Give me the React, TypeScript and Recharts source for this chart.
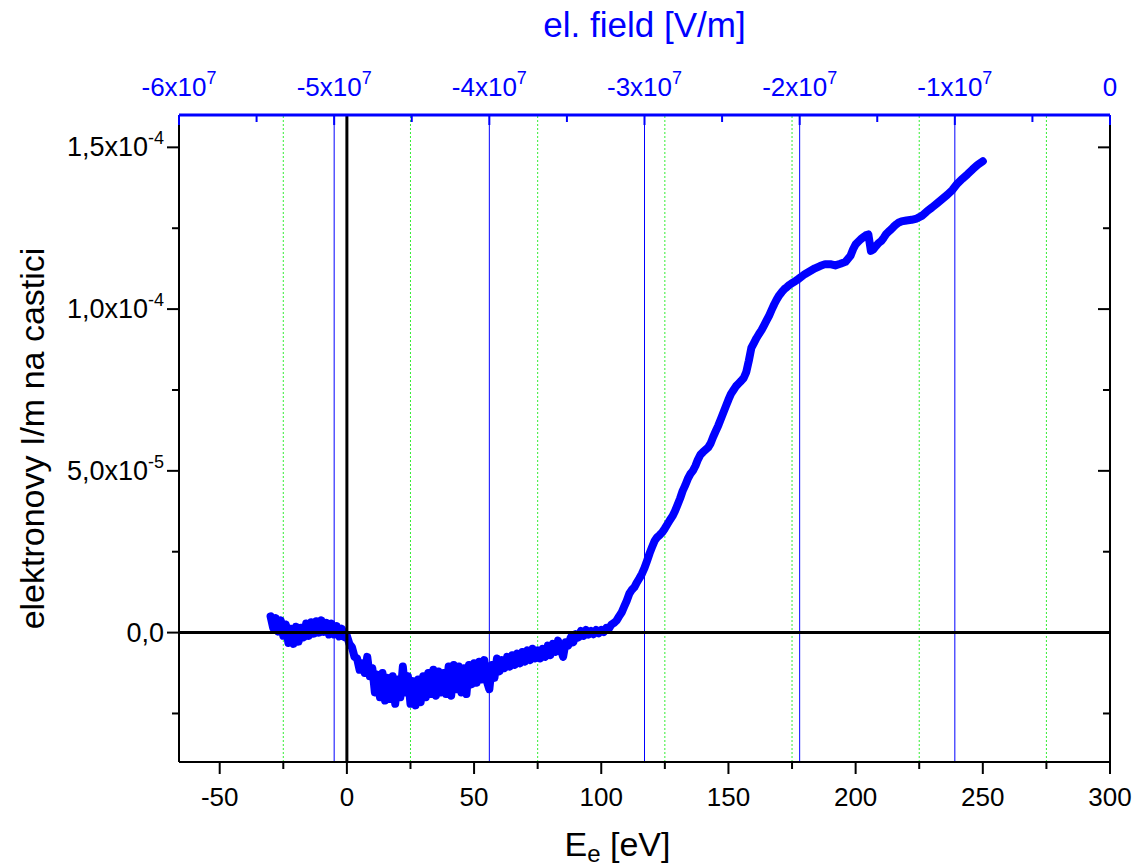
import { LineChart, Line, XAxis, YAxis, ReferenceLine } from "recharts";

// electron energy [eV] and electrons per particle (units of 1e-6), low-energy noisy part
const energyLow = [
  -30, -29, -28, -27, -26, -25, -24, -23, -22, -21,
  -20, -19, -18, -17, -16, -15, -14, -13, -12, -11,
  -10, -9, -8, -7, -6, -5, -4, -3, -2, -1,
  0, 1, 2, 3, 4, 5, 6, 7, 8, 9,
  10, 11, 12, 13, 14, 15, 16, 17, 18, 19,
  20, 21, 22, 23, 24, 25, 26, 27, 28, 29,
  30, 31, 32, 33, 34, 35, 36, 37, 38, 39,
  40, 41, 42, 43, 44, 45, 46, 47, 48, 49,
  50, 51, 52, 53, 54, 55, 56, 57, 58, 59,
  60, 61, 62, 63, 64, 65, 66, 67, 68, 69,
  70, 71, 72, 73, 74, 75, 76, 77, 78, 79,
  80, 81, 82, 83, 84, 85, 86, 87, 88, 89,
  90, 91, 92, 93, 94, 95, 96, 97, 98, 99,
  100, 101, 102, 103, 104, 105,
];
const electronsLow = [
  5.0, 1.5, 4.5, 0.3, 3.8, -1.0, 2.5, -3.2, 1.2, -3.5,
  1.8, -2.8, 1.5, -1.5, 2.8, -1.0, 3.2, -0.3, 3.5, 0.0,
  3.8, 0.2, 3.0, -0.6, 2.8, -0.6, 2.0, -1.2, 1.2, -1.4,
  -1.0, -3.5, -4.5, -7.5, -8.0, -11.5, -9.5, -12.5, -7.5, -13.5,
  -11.0, -18.5, -13.0, -20.0, -12.5, -21.0, -14.0, -20.5, -13.5, -22.0,
  -14.5, -20.0, -10.5, -18.5, -13.5, -22.0, -15.0, -22.5, -14.5, -21.5,
  -13.5, -20.0, -12.5, -19.0, -11.5, -19.5, -12.0, -18.5, -12.5, -19.0,
  -10.5, -19.5, -10.0, -17.5, -10.5, -18.5, -11.0, -19.0, -10.0, -16.0,
  -9.5, -15.5, -9.0, -14.5, -8.5, -15.0, -17.5, -10.0, -14.0, -8.0,
  -12.0, -8.5, -11.0, -7.5, -10.5, -7.0, -10.0, -6.5, -9.5, -6.0,
  -9.0, -5.5, -8.5, -5.0, -8.0, -5.5, -8.0, -5.0, -7.5, -4.0,
  -7.0, -3.5, -6.0, -2.5, -5.0, -7.5, -3.0, -4.0, -1.5, -3.0,
  -0.5, -1.5, 0.5, -1.0, 0.8, -0.6, 0.5, -0.5, 0.8, -0.2,
  0.8, 0.2, 1.5, 1.2, 2.5, 3.0,
];

// rising part
const energyHigh = [
  106, 107, 108, 109, 110, 111, 112, 113, 114, 115,
  116, 117, 118, 119, 120, 121, 122, 123, 124, 125,
  126, 127, 128, 129, 130, 131, 132, 133, 134, 135,
  136, 137, 138, 139, 140, 141, 142, 143, 144, 145,
  146, 147, 148, 149, 150, 151, 152, 153, 154, 155,
  156, 157, 158, 159, 160, 161, 162, 163, 164, 165,
  166, 167, 168, 169, 170, 171, 172, 173, 174, 175,
  176, 177, 178, 179, 180,
  182, 184, 186, 188, 190, 192, 194, 196, 198,
  199, 200, 201, 202, 203, 204, 205, 206, 207, 208,
  209, 210, 211, 212, 213, 214, 215, 216, 217, 218,
  220, 222, 224, 226, 228, 230, 232, 234, 236, 238,
  240, 242, 244, 246, 248, 250,
];
const electronsHigh = [
  3.7, 5.0, 6.2, 8.0, 9.8, 12.0, 13.2, 14.0, 15.5, 16.8,
  18.2, 20.0, 22.2, 24.5, 26.5, 28.4, 29.5, 30.2, 31.0, 32.2,
  33.5, 34.8, 36.0, 37.6, 39.5, 41.5, 43.8, 45.5, 47.5, 49.0,
  50.0, 51.5, 53.5, 55.0, 55.8, 56.5, 57.2, 58.5, 60.5, 62.3,
  64.0, 66.0, 68.0, 70.0, 72.0, 73.8, 75.0, 76.2, 77.0, 77.8,
  78.7, 80.5, 84.0, 88.0, 89.5, 91.0, 92.3, 93.5, 95.0, 96.5,
  98.0, 99.8, 101.5, 103.0, 104.3, 105.3, 106.2, 106.8, 107.5, 108.0,
  108.5, 109.0, 109.6, 110.2, 110.8,
  111.7, 112.6, 113.3, 113.9, 113.9, 113.5, 114.0, 114.6, 116.5,
  118.5, 120.0, 120.8, 121.6, 122.2, 122.8, 123.1, 118.0, 118.5, 119.5,
  120.4, 121.0, 122.0, 123.2, 124.0, 124.7, 125.5, 126.2, 126.8, 127.1,
  127.4, 127.6, 128.0, 128.8, 130.2, 131.4, 132.7, 134.0, 135.3, 136.8,
  138.8, 140.3, 141.7, 143.2, 144.6, 145.7,
];

const energyTicks = [-50, -25, 0, 25, 50, 75, 100, 125, 150, 175, 200, 225, 250, 275, 300];
const energyMinorGrid = [-25, 25, 75, 125, 175, 225, 275];
const fieldTicks = [-6e7, -5.5e7, -5e7, -4.5e7, -4e7, -3.5e7, -3e7, -2.5e7, -2e7, -1.5e7, -1e7, -5e6, 0];
const fieldGrid = [-5e7, -4e7, -3e7, -2e7, -1e7];
const fieldLabels: Record<string, [string, string]> = {
  "-60000000": ["-6x10", "7"],
  "-50000000": ["-5x10", "7"],
  "-40000000": ["-4x10", "7"],
  "-30000000": ["-3x10", "7"],
  "-20000000": ["-2x10", "7"],
  "-10000000": ["-1x10", "7"],
  "0": ["0", ""],
};
const yTicks = [-25, 0, 25, 50, 75, 100, 125, 150];
const yLabels: Record<string, [string, string]> = {
  "0": ["0,0", ""],
  "50": ["5,0x10", "-5"],
  "100": ["1,0x10", "-4"],
  "150": ["1,5x10", "-4"],
};

// the top scale: -6x10^7 V/m sits at -66 eV, 0 V/m at 300 eV
const EV_MIN = -66;
const EV_MAX = 300;
const fieldToEv = (f: number) => EV_MAX + (f / 6e7) * (EV_MAX - EV_MIN);

const rows = [
  ...energyLow.map((e, i) => ({ e, v: electronsLow[i] })),
  ...energyHigh.map((e, i) => ({ e, v: electronsHigh[i] })),
];

const BLUE = "#0000ff";
const FONT = "'Liberation Sans', Arial, sans-serif";

const BottomTick = (props: any) => {
  const { x, y, payload } = props;
  const major = payload.value % 50 === 0;
  return (
    <g>
      <line x1={x} x2={x} y1={y} y2={y + (major ? 12 : 7)} stroke="#000" strokeWidth={2} />
      {major && (
        <text x={x} y={y + 44} textAnchor="middle" fontSize={26} fill="#000">
          {payload.value}
        </text>
      )}
    </g>
  );
};

const TopTick = (props: any) => {
  const { x, y, index } = props;
  const lbl = fieldLabels[String(fieldTicks[index])];
  const major = !!lbl;
  return (
    <g>
      <line x1={x} x2={x} y1={y} y2={y + (major ? 10 : 7)} stroke={BLUE} strokeWidth={2} />
      {lbl && (
        <text x={x} y={y - 19} textAnchor="middle" fontSize={26} fill={BLUE}>
          <tspan>{lbl[0]}</tspan>
          {lbl[1] && (
            <tspan dy={-12} fontSize={18}>
              {lbl[1]}
            </tspan>
          )}
        </text>
      )}
    </g>
  );
};

const LeftTick = (props: any) => {
  const { x, y, payload } = props;
  const major = payload.value % 50 === 0;
  const lbl = yLabels[String(payload.value)];
  return (
    <g>
      <line x1={x - (major ? 12 : 7)} x2={x} y1={y} y2={y} stroke="#000" strokeWidth={2} />
      {lbl && (
        <text x={x - 15} y={y + 9} textAnchor="end" fontSize={27} fill="#000">
          <tspan>{lbl[0]}</tspan>
          {lbl[1] && (
            <tspan dy={-12} fontSize={18}>
              {lbl[1]}
            </tspan>
          )}
        </text>
      )}
    </g>
  );
};

const RightTick = (props: any) => {
  const { x, y, payload } = props;
  const major = payload.value % 50 === 0;
  return <line x1={x - (major ? 12 : 7)} x2={x} y1={y} y2={y} stroke="#000" strokeWidth={2} />;
};

const yTitle = (props: any) => {
  const vb = props.viewBox || { x: 0, y: 115, width: 179, height: 647 };
  const cx = vb.x + 32;
  const cy = vb.y + vb.height / 2;
  return (
    <text
      x={cx}
      y={cy}
      transform={`rotate(-90 ${cx} ${cy})`}
      textAnchor="middle"
      dominantBaseline="central"
      fontSize={34}
      fill="#000"
    >
      elektronovy I/m na castici
    </text>
  );
};

const xTitle = (props: any) => {
  const vb = props.viewBox || { x: 179, y: 762, width: 931, height: 105 };
  return (
    <text x={vb.x + vb.width / 2 - 27} y={vb.y + 94} textAnchor="middle" fontSize={34} fill="#000">
      <tspan>E</tspan>
      <tspan dy={6} fontSize={24}>e</tspan>
      <tspan dy={-6}> [eV]</tspan>
    </text>
  );
};

const topTitle = (props: any) => {
  const vb = props.viewBox || { x: 179, y: 0, width: 931, height: 115 };
  return (
    <text x={vb.x + vb.width / 2} y={vb.y + 37} textAnchor="middle" fontSize={35} fill={BLUE}>
      el. field [V/m]
    </text>
  );
};

export default function App() {
  return (
    <div style={{ position: "absolute", left: 0, top: 0, background: "#fff", fontFamily: FONT }}>
      <LineChart
        width={1138}
        height={867}
        data={rows}
        margin={{ top: 0, right: 0, bottom: 0, left: 0 }}
        style={{ fontFamily: FONT }}
      >
        <XAxis
          xAxisId="bottom"
          dataKey="e"
          type="number"
          domain={[EV_MIN, EV_MAX]}
          allowDataOverflow
          ticks={energyTicks}
          interval={0}
          height={105}
          tickLine={false}
          tickSize={0}
          tickMargin={0}
          tick={BottomTick}
          axisLine={{ stroke: "#000", strokeWidth: 2 }}
          label={xTitle}
        />
        <XAxis
          xAxisId="top"
          dataKey="e"
          orientation="top"
          type="number"
          domain={[EV_MIN, EV_MAX]}
          allowDataOverflow
          ticks={fieldTicks.map(fieldToEv)}
          interval={0}
          height={115}
          tickLine={false}
          tickSize={0}
          tickMargin={0}
          tick={TopTick}
          axisLine={{ stroke: BLUE, strokeWidth: 3 }}
          label={topTitle}
        />
        <YAxis
          yAxisId="left"
          type="number"
          domain={[-40, 160]}
          allowDataOverflow
          ticks={yTicks}
          interval={0}
          width={179}
          tickLine={false}
          tickSize={0}
          tickMargin={0}
          tick={LeftTick}
          axisLine={{ stroke: "#000", strokeWidth: 2 }}
          label={yTitle}
        />
        <YAxis
          yAxisId="right"
          orientation="right"
          type="number"
          domain={[-40, 160]}
          allowDataOverflow
          ticks={yTicks}
          interval={0}
          width={28}
          tickLine={false}
          tickSize={0}
          tickMargin={0}
          tick={RightTick}
          axisLine={{ stroke: "#000", strokeWidth: 2 }}
        />
        {energyMinorGrid.map((g) => (
          <ReferenceLine
            key={"g" + g}
            xAxisId="bottom"
            yAxisId="left"
            x={g}
            stroke="#33ee33"
            strokeWidth={1}
            strokeDasharray="2 2"
          />
        ))}
        {fieldGrid.map((f) => (
          <ReferenceLine
            key={"f" + f}
            xAxisId="bottom"
            yAxisId="left"
            x={fieldToEv(f)}
            stroke={BLUE}
            strokeWidth={1}
          />
        ))}
        <Line
          xAxisId="bottom"
          yAxisId="left"
          type="linear"
          dataKey="v"
          stroke={BLUE}
          strokeWidth={8}
          strokeLinejoin="round"
          strokeLinecap="round"
          dot={false}
          isAnimationActive={false}
        />
        <ReferenceLine xAxisId="bottom" yAxisId="left" x={0} stroke="#000" strokeWidth={3} />
        <ReferenceLine xAxisId="bottom" yAxisId="left" y={0} stroke="#000" strokeWidth={3} />
      </LineChart>
    </div>
  );
}
